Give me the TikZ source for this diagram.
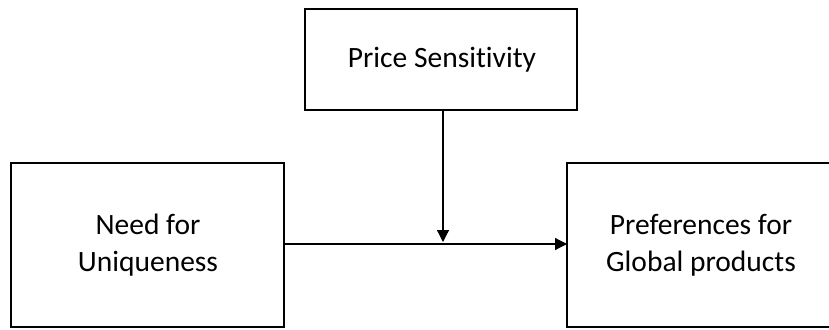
\documentclass[tikz,border=0pt]{standalone}
\usepackage{fontspec}
\setmainfont{Carlito}[Ligatures={NoCommon}]
\usetikzlibrary{arrows.meta}
\begin{document}
\begin{tikzpicture}[x=1pt,y=-1pt,
  box/.style={draw=black, line width=2.2pt, rectangle},
  lbl/.style={font=\fontsize{29.5}{37}\selectfont, align=center, inner sep=0pt},
  arr/.style={draw=black, line width=1.2pt, -{Triangle[length=12pt,width=12pt]}}]
\clip (0,0) rectangle (829,329);
\fill[white] (0,0) rectangle (829,329);
\draw[box] (305,9) rectangle (577,110);
\draw[box] (11,163) rectangle (284,327);
\draw[box] (567,163) rectangle (836,327);
\node[lbl] (ps) at (442,60) {Price Sensitivity};
\node[lbl] (nu) at (148,245) {Need for\\Uniqueness};
\node[lbl] (pg) at (701,245) {Preferences for\\Global products};
\coordinate (ls) at (284,244);
\coordinate (re) at (567,244);
\coordinate (tb) at (443,110);
\coordinate (mid) at (443,242);
\draw[arr] (ls) -- (re);
\draw[arr] (tb) -- (mid);
\end{tikzpicture}
\end{document}
